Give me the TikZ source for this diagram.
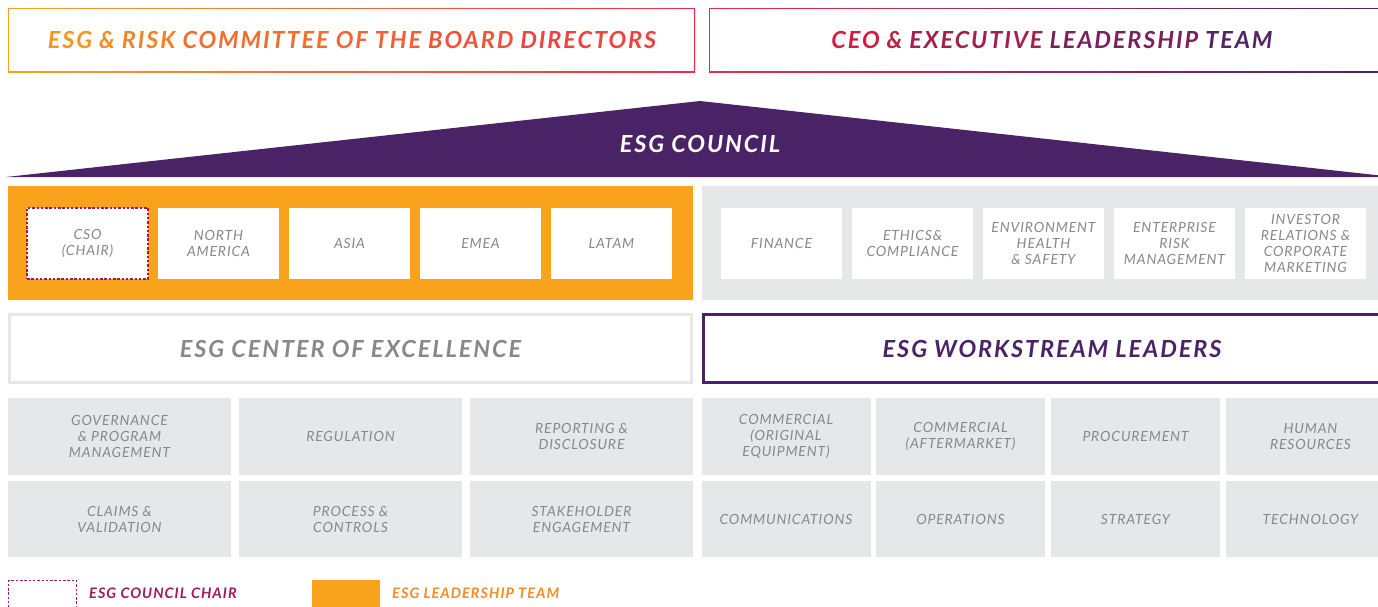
\documentclass[tikz,border=0pt]{standalone}
\usepackage{fontspec}
\setmainfont{Lato}[LetterSpace=6]
\newfontfamily\titlefont{Lato}[LetterSpace=8]
\newfontfamily\legfont{Lato}[LetterSpace=7]
\definecolor{esgorange}{HTML}{F9A31D}
\definecolor{esgpurple}{HTML}{4A2366}
\definecolor{esggray}{HTML}{E6E7E8}
\definecolor{txtgray}{HTML}{86888B}
\definecolor{crimson}{HTML}{A0195A}
\definecolor{torange}{HTML}{F7951D}
\definecolor{tred}{HTML}{EE3C42}
\definecolor{tcrim}{HTML}{CF1F40}
\definecolor{borderred}{HTML}{EE2A4A}
\definecolor{legorange}{HTML}{F58B2B}
\begin{document}
\begin{tikzpicture}[x=1pt,y=-1pt,
  title/.style={font=\titlefont\fontsize{23.5}{26}\selectfont\bfseries\itshape, inner sep=0pt},
  cell/.style={fill=esggray, inner sep=0pt, text=txtgray, align=center,
    font=\fontsize{14}{16}\selectfont\itshape},
  wbox/.style={fill=white, inner sep=0pt, text=txtgray, align=center,
    minimum width=121pt, minimum height=71pt,
    font=\fontsize{14}{16}\selectfont\itshape},
  cellL/.style={cell, minimum width=223pt},
  cellR/.style={cell, minimum width=169pt},
  legtext/.style={font=\legfont\fontsize{14.5}{16}\selectfont\bfseries\itshape, inner sep=0pt, anchor=west}
]
\useasboundingbox (0,0) rectangle (1378,606);
\clip (0,0) rectangle (1378,606);

% top boxes with gradient borders
\shade[left color=esgorange, right color=borderred] (8,8) rectangle (695,72);
\fill[white] (9.3,9.3) rectangle (693.7,70.7);
\node[title] (board) at (352,40) {%
{\color{torange}ESG} {\color{torange!90!tred}\&} {\color{torange!78!tred}RISK}
{\color{torange!56!tred}COMMITTEE} {\color{torange!47!tred}OF} {\color{torange!40!tred}THE}
{\color{torange!26!tred}BOARD} {\color{torange!8!tred}DIRECTORS}};

\shade[left color=borderred, right color=esgpurple] (709,8) rectangle (1395,72);
\fill[white] (710.3,9.3) rectangle (1393.7,70.7);
\node[title] (ceo) at (1052,40) {%
{\color{tcrim}CEO} {\color{tcrim!88!esgpurple}\&} {\color{tcrim!68!esgpurple}EXECUTIVE}
{\color{tcrim!35!esgpurple}LEADERSHIP} {\color{tcrim!8!esgpurple}TEAM}};

% council triangle
\fill[esgpurple] (6,177) -- (700,101) -- (1394,177) -- cycle;
\node[title, text=white] (council) at (700,144) {ESG COUNCIL};

% leadership team (orange) and functions (gray)
\fill[esgorange] (8,186) rectangle (693,300);
\fill[esggray] (702,186) rectangle (1386,300);

\node[wbox, draw=crimson, dash pattern=on 2.5pt off 1.8pt, line width=1.3pt] (cso) at (87.5,243.5) {CSO\\(CHAIR)};
\node[wbox] (na) at (218.5,243.5) {NORTH\\AMERICA};
\node[wbox] (asia) at (349.5,243.5) {ASIA};
\node[wbox] (emea) at (480.5,243.5) {EMEA};
\node[wbox] (latam) at (611.5,243.5) {LATAM};

\node[wbox] (fin) at (781.5,243.5) {FINANCE};
\node[wbox] (eth) at (912.5,243.5) {ETHICS\&\\COMPLIANCE};
\node[wbox] (ehs) at (1043.5,243.5) {ENVIRONMENT\\HEALTH\\\& SAFETY};
\node[wbox] (erm) at (1174.5,243.5) {ENTERPRISE\\RISK\\MANAGEMENT};
\node[wbox] (inv) at (1305.5,243.5) {INVESTOR\\RELATIONS \&\\CORPORATE\\MARKETING};

% center of excellence / workstream leaders
\node[draw=esggray, line width=3pt, minimum width=682pt, minimum height=68pt, inner sep=0pt,
  title, text=txtgray] (coe) at (350.5,348.5) {ESG CENTER OF EXCELLENCE};
\node[draw=esgpurple, line width=3pt, minimum width=697pt, minimum height=68pt, inner sep=0pt,
  title, text=esgpurple] (wsl) at (1052,348.5) {ESG WORKSTREAM LEADERS};

% cells row 1
\node[cellL, minimum height=77pt] (gov) at (119.5,436.5) {GOVERNANCE\\\& PROGRAM\\MANAGEMENT};
\node[cellL, minimum height=77pt] (reg) at (350.5,436.5) {REGULATION};
\node[cellL, minimum height=77pt] (rep) at (581.5,436.5) {REPORTING \&\\DISCLOSURE};
\node[cellR, minimum height=77pt] (coq) at (786,436.5) {COMMERCIAL\\(ORIGINAL\\EQUIPMENT)};
\node[cellR, minimum height=77pt] (cam) at (960.5,436.5) {COMMERCIAL\\(AFTERMARKET)};
\node[cellR, minimum height=77pt] (pro) at (1135.5,436.5) {PROCUREMENT};
\node[cellR, minimum height=77pt] (hr) at (1310.5,436.5) {HUMAN\\RESOURCES};
% cells row 2
\node[cellL, minimum height=76pt] (cla) at (119.5,519) {CLAIMS \&\\VALIDATION};
\node[cellL, minimum height=76pt] (pc) at (350.5,519) {PROCESS \&\\CONTROLS};
\node[cellL, minimum height=76pt] (stk) at (581.5,519) {STAKEHOLDER\\ENGAGEMENT};
\node[cellR, minimum height=76pt] (com) at (786,519) {COMMUNICATIONS};
\node[cellR, minimum height=76pt] (ops) at (960.5,519) {OPERATIONS};
\node[cellR, minimum height=76pt] (str) at (1135.5,519) {STRATEGY};
\node[cellR, minimum height=76pt] (tec) at (1310.5,519) {TECHNOLOGY};

% legend
\draw[crimson, line width=1.3pt, dash pattern=on 2.5pt off 1.8pt] (8.5,612) -- (8.5,580.5) -- (76.5,580.5) -- (76.5,612);
\node[legtext, text=crimson] (legchair) at (89,593) {ESG COUNCIL CHAIR};
\fill[esgorange] (312,580) rectangle (380,612);
\node[legtext, text=legorange] (legteam) at (392,593) {ESG LEADERSHIP TEAM};
\end{tikzpicture}
\end{document}
